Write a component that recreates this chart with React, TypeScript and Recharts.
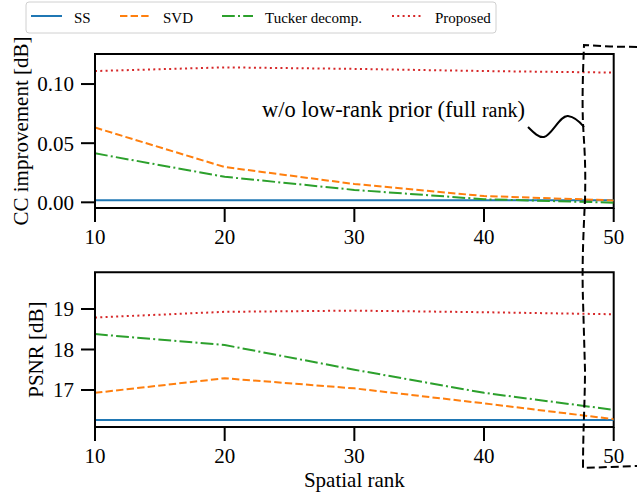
import React from 'react';
import { LineChart, Line, XAxis, YAxis, ReferenceArea } from 'recharts';

// ---- data ----
const ranks = [10, 20, 30, 40, 50];

const ccSS = [0.0018, 0.0018, 0.0018, 0.0018, 0.0018];
const ccSVD = [0.0632, 0.0298, 0.0155, 0.0053, 0.0016];
const ccTucker = [0.0414, 0.0216, 0.0105, 0.0026, -0.0003];
const ccProposed = [0.111, 0.1141, 0.1128, 0.111, 0.1097];

const psnrSS = [16.26, 16.26, 16.26, 16.26, 16.26];
const psnrSVD = [16.93, 17.29, 17.04, 16.67, 16.28];
const psnrTucker = [18.38, 18.11, 17.5, 16.93, 16.51];
const psnrProposed = [18.79, 18.93, 18.96, 18.92, 18.87];

const xTicks = [10, 20, 30, 40, 50];
const ccTicks = [0, 0.05, 0.1];
const psnrTicks = [17, 18, 19];
const ccDomain = [-0.0048, 0.1254];
const psnrDomain = [16.086, 19.906];

const seriesNames = ['SS', 'SVD', 'Tucker decomp.', 'Proposed'];
const seriesKeys = ['ss', 'svd', 'tucker', 'proposed'];
const seriesColors = ['#1f77b4', '#ff7f0e', '#2ca02c', '#d62728'];
const seriesDashes = [undefined, '7.4 3.2', '12.8 3.2 2 3.2', '2 3.3'];

const xLabel = 'Spatial rank';
const ccLabel = 'CC improvement [dB]';
const psnrLabel = 'PSNR [dB]';
const annotationMain = 'w/o low-rank prior (full ';
const annotationSmall = 'rank';
const annotationEnd = ')';

// ---- layout (not data) ----
const FONT = "'Liberation Serif', 'Times New Roman', serif";
const legendLineX = [31, 120, 222, 392];
const legendTextX = [74, 163, 265, 435];

const ccData = ranks.map((r, i) => ({
  rank: r,
  ss: ccSS[i],
  svd: ccSVD[i],
  tucker: ccTucker[i],
  proposed: ccProposed[i],
}));
const psnrData = ranks.map((r, i) => ({
  rank: r,
  ss: psnrSS[i],
  svd: psnrSVD[i],
  tucker: psnrTucker[i],
  proposed: psnrProposed[i],
}));

const tickStyle = { fill: '#000', fontSize: 21, fontFamily: FONT };

const makeYLabel = (text: string, cx: number) => (props: any) => {
  const vb = props.viewBox || {};
  const cy = (vb.y || 0) + (vb.height || 0) / 2;
  return (
    <text
      x={cx}
      y={cy}
      dy="0.33em"
      transform={`rotate(-90, ${cx}, ${cy})`}
      textAnchor="middle"
      fontSize={21}
      fontFamily={FONT}
      fill="#000"
    >
      {text}
    </text>
  );
};

const makeXLabel = (text: string, bottomGap: number) => (props: any) => {
  const vb = props.viewBox || {};
  const x = (vb.x || 0) + (vb.width || 0) / 2;
  const y = (vb.y || 0) + (vb.height || 0) - bottomGap;
  return (
    <text x={x} y={y} textAnchor="middle" fontSize={21} fontFamily={FONT} fill="#000">
      {text}
    </text>
  );
};

function Panel(props: {
  data: any[];
  height: number;
  top: number;
  xHeight: number;
  domain: number[];
  ticks: number[];
  fmt: (v: number) => string;
  yLabel: any;
  xLabel?: any;
}) {
  const { data, height, top, xHeight, domain, ticks, fmt, yLabel, xLabel: xl } = props;
  return (
    <LineChart
      width={637}
      height={height}
      data={data}
      margin={{ top, right: 23.3, bottom: 0, left: 0 }}
    >
      <XAxis
        dataKey="rank"
        type="number"
        domain={[10, 50]}
        ticks={xTicks}
        interval={0}
        allowDataOverflow
        height={xHeight}
        tickSize={14}
        tickMargin={7}
        tick={tickStyle}
        axisLine={{ stroke: '#000', strokeWidth: 2 }}
        tickLine={{ stroke: '#000', strokeWidth: 2 }}
        label={xl}
      />
      <YAxis
        type="number"
        domain={domain}
        ticks={ticks}
        interval={0}
        allowDataOverflow
        width={95}
        tickSize={14}
        tickMargin={7}
        tick={tickStyle}
        tickFormatter={fmt}
        axisLine={{ stroke: '#000', strokeWidth: 2 }}
        tickLine={{ stroke: '#000', strokeWidth: 2 }}
        label={yLabel}
      />
      {seriesKeys.map((k, i) => (
        <Line
          key={k}
          type="linear"
          dataKey={k}
          name={seriesNames[i]}
          stroke={seriesColors[i]}
          strokeWidth={2}
          strokeDasharray={seriesDashes[i]}
          dot={false}
          activeDot={false}
          isAnimationActive={false}
        />
      ))}
      <ReferenceArea
        x1={10}
        x2={50}
        y1={domain[0]}
        y2={domain[1]}
        fill="none"
        fillOpacity={0}
        stroke="#000"
        strokeWidth={2}
        ifOverflow="visible"
      />
    </LineChart>
  );
}

export default function App() {
  return (
    <div
      style={{
        position: 'absolute',
        left: 0,
        top: 0,
        width: 637,
        height: 495,
        background: '#fff',
        overflow: 'hidden',
      }}
    >
      <div style={{ position: 'absolute', left: 0, top: 0 }}>
        <Panel
          data={ccData}
          height={250}
          top={54}
          xHeight={42}
          domain={ccDomain}
          ticks={ccTicks}
          fmt={(v) => v.toFixed(2)}
          yLabel={makeYLabel(ccLabel, 20.7)}
        />
      </div>
      <div style={{ position: 'absolute', left: 0, top: 250 }}>
        <Panel
          data={psnrData}
          height={245}
          top={22.3}
          xHeight={68}
          domain={psnrDomain}
          ticks={psnrTicks}
          fmt={(v) => String(v)}
          yLabel={makeYLabel(psnrLabel, 35.8)}
          xLabel={makeXLabel(xLabel, 8.3)}
        />
      </div>
      <svg
        width={637}
        height={495}
        style={{ position: 'absolute', left: 0, top: 0, pointerEvents: 'none' }}
      >
        {/* legend */}
        <rect x={26} y={2} width={470} height={31} rx={3} fill="#fff" stroke="#d0d0d0" strokeWidth={1} />
        {seriesNames.map((n, i) => (
          <g key={n}>
            <line
              x1={legendLineX[i]}
              x2={legendLineX[i] + 31}
              y1={16}
              y2={16}
              stroke={seriesColors[i]}
              strokeWidth={2}
              strokeDasharray={seriesDashes[i]}
            />
            <text x={legendTextX[i]} y={22.5} fontSize={15} fontFamily={FONT} fill="#000">
              {n}
            </text>
          </g>
        ))}
        {/* annotation */}
        <text x={262} y={117} fontSize={22.5} fontFamily={FONT} fill="#000">
          {annotationMain}
          <tspan fontSize={20}>{annotationSmall}</tspan>
          {annotationEnd}
        </text>
        <path
          d="M528,127 C534,133 539,138 544,137 C552,135 560,115 568,116 C575,117 580,122 584,127"
          fill="none"
          stroke="#000"
          strokeWidth={2}
        />
        <path
          d="M637,47 L610,46.5 L584,45 C583,70 582,100 583,123 C584,145 586,160 585,200 C583,240 582,270 583,300 L585,370 C585,400 583,430 583,468 L610,467 L637,466"
          fill="none"
          stroke="#000"
          strokeWidth={2}
          strokeDasharray="8 4"
        />
      </svg>
    </div>
  );
}
